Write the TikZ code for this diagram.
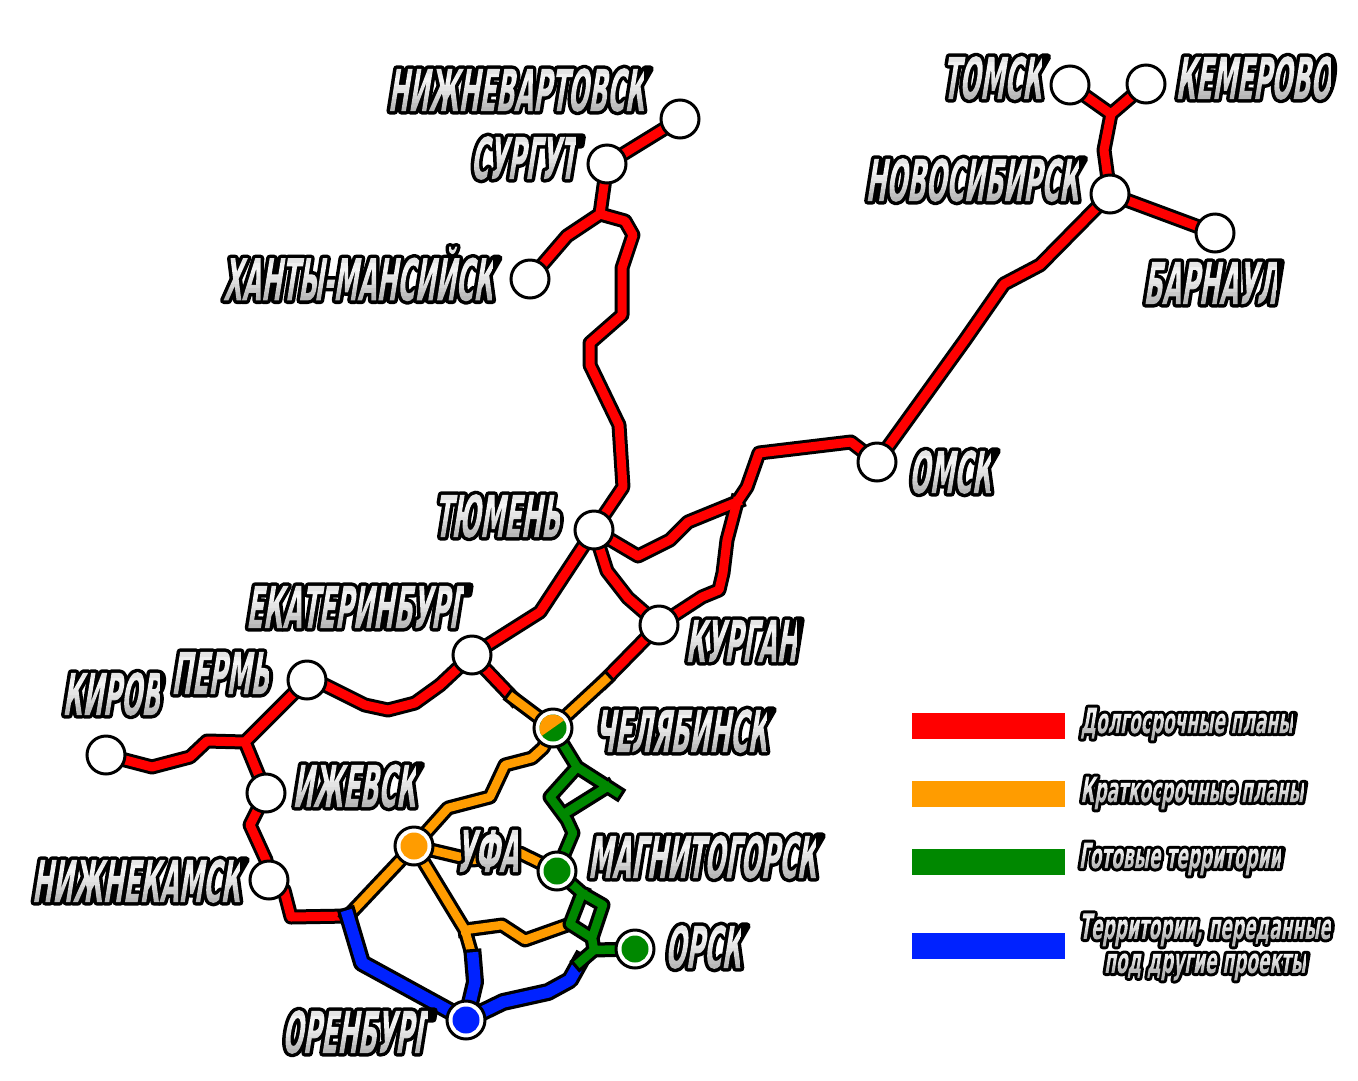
\documentclass[tikz,border=0pt]{standalone}
\usepackage{fontspec}
\usetikzlibrary{backgrounds}
\newfontfamily\cityfont[FakeStretch=.42,FakeSlant=.16]{DejaVu Sans}
\newfontfamily\legendfont[FakeStretch=.485,FakeSlant=.16]{DejaVu Sans}
\definecolor{linered}{HTML}{FF0000}
\definecolor{lineorange}{HTML}{FF9C00}
\definecolor{linegreen}{HTML}{008800}
\definecolor{lineblue}{HTML}{0022FF}
% outlined text: stroked and clipped to the glyphs, then grey bands painted in
\newcommand{\gradstrips}{.72 g -60 -.4 60 .5 re f .75 g -60 .1 60 .1 re f
  .79 g -60 .2 60 .1 re f .83 g -60 .3 60 .1 re f .87 g -60 .4 60 .1 re f
  .90 g -60 .5 60 .1 re f .93 g -60 .6 60 .1 re f .96 g -60 .7 60 .1 re f
  .94 g -60 .8 60 .1 re f .90 g -60 .9 60 .5 re f}
\newcommand{\rimtext}[3]{\special{x:gsave}\special{pdf:code 6 Tr #2 w 1 j 0 G}#3%
  \special{pdf:content #1 0 0 #1 0 0 cm \gradstrips}\special{x:grestore}}
\newcommand{\citytext}[1]{\rimtext{41}{7}{#1}}
\newcommand{\legendtext}[1]{\rimtext{26}{6}{#1}}
\newcommand{\linegroup}[4]{\draw[casing, line width=#3pt] #4;
  \draw[coreline, draw=#1, line width=#2pt] #4;}
\tikzset{
  stopnode/.style={circle, draw=black, fill=white, line width=3pt,
    minimum size=38pt, inner sep=0pt},
  filledstop/.style={stopnode, path picture={
    \fill[#1] (path picture bounding box.center) circle (13.5pt);}},
  casing/.style={draw=black, line cap=rect, line join=round},
  coreline/.style={line cap=rect, line join=round},
  citylabel/.style={inner sep=0pt, font={\cityfont\bfseries\fontsize{58}{58}\selectfont}},
  legendlabel/.style={inner sep=0pt, align=center,
    font={\legendfont\bfseries\fontsize{35}{34}\selectfont}},
  legendbar/.style={minimum width=153pt, minimum height=26pt, inner sep=0pt, outer sep=0pt}
}
\begin{document}
\begin{tikzpicture}[x=1pt, y=-1pt]
  \useasboundingbox (0,0) rectangle (1358,1080);
  % stations
  \foreach \name/\x/\y in {nizhnevartovsk/680/119, surgut/607/164, khanty/530/279,
      tomsk/1070/85, kemerovo/1146/84, novosibirsk/1110/194, barnaul/1215/233,
      omsk/877/462, tyumen/594/530, kurgan/659/625, ekb/472/655, perm/307/680,
      kirov/106/755, izhevsk/266/793, nizhnekamsk/269/880}{
    \node[stopnode] (\name) at (\x,\y) {};
  }
  \node[filledstop=lineorange] (ufa) at (414,846) {};
  \node[filledstop=linegreen] (magnitogorsk) at (557,871) {};
  \node[filledstop=linegreen] (orsk) at (635,949) {};
  \node[filledstop=lineblue] (orenburg) at (466,1020) {};
  \node[stopnode, path picture={
    \fill[linegreen] (path picture bounding box.center) circle (13.5pt);
    \fill[lineorange] ([shift={(35:13.5pt)}]path picture bounding box.center)
      arc[start angle=35, end angle=215, radius=13.5pt] -- cycle;}]
    (chelyabinsk) at (553,728) {};
  % junctions
  \coordinate (jsurgut) at (600,214);
  \coordinate (jtomsk) at (1111,114);
  \coordinate (jkurgan) at (737,502);
  \coordinate (jperm) at (245,742);
  \coordinate (jorenburg) at (348,916);
  \coordinate (jekb) at (513,698);
  \coordinate (jchel) at (605,680);
  \coordinate (jufa) at (465,930);
  \coordinate (jblue) at (473,958);
  \coordinate (jorsk) at (594,950);
  \coordinate (jtail) at (580,962);
  \coordinate (jbox) at (570,924);
  \coordinate (jmag) at (582,893);
  \coordinate (jtop) at (577,767);
  % lines
  \begin{scope}[on background layer]
    \linegroup{linered}{9}{15}{
      (nizhnevartovsk.center) -- (surgut.center) -- (jsurgut)
      (khanty.center) -- (567,236) -- (jsurgut)
      (jsurgut) -- (625,221) -- (633,235) -- (622,268) -- (622,315) -- (590,343)
        -- (590,365) -- (619,425) -- (623,487) -- (tyumen.center)
      (tomsk.center) -- (jtomsk) -- (kemerovo.center)
      (jtomsk) -- (1104,150) -- (novosibirsk.center) -- (barnaul.center)
      (novosibirsk.center) -- (1040,265) -- (1004,284) -- (965,340) -- (omsk.center)
      (omsk.center) -- (851,442) -- (759,453) -- (747,487) -- (jkurgan)
      (tyumen.center) -- (638,556) -- (670,540) -- (688,522) -- (jkurgan)
      (jkurgan) -- (727,540) -- (723,573) -- (719,590) -- (702,597) -- (kurgan.center)
      (tyumen.center) -- (607,571) -- (628,598) -- (kurgan.center)
      (tyumen.center) -- (540,612) -- (ekb.center)
      (ekb.center) -- (440,685) -- (415,703) -- (388,710) -- (365,705) -- (325,685) -- (perm.center)
      (perm.center) -- (jperm) -- (izhevsk.center)
      (kirov.center) -- (152,767) -- (190,757) -- (207,741) -- (jperm)
      (izhevsk.center) -- (250,825) -- (266,860) -- (nizhnekamsk.center)
      (nizhnekamsk.center) -- (284,890) -- (291,917) -- (jorenburg)
      (ekb.center) -- (jekb)
      (kurgan.center) -- (jchel)
    }
    \linegroup{lineorange}{8.5}{15}{
      (jekb) -- (chelyabinsk.center) -- (jchel)
      (chelyabinsk.center) -- (543,748) -- (532,758) -- (505,765) -- (490,797) -- (448,808) -- (ufa.center)
      (ufa.center) -- (473,860) -- (520,853) -- (magnitogorsk.center)
      (ufa.center) -- (jorenburg)
      (ufa.center) -- (jufa) -- (jblue)
      (jufa) -- (502,925) -- (525,940) -- (jbox)
    }
    \linegroup{lineblue}{11.5}{18}{
      (jorenburg) -- (362,963) -- (orenburg.center)
      (jblue) -- (475,982) -- (orenburg.center)
      (orenburg.center) -- (503,1002) -- (548,992) -- (570,980) -- (jtail)
    }
    \linegroup{linegreen}{8.5}{15}{
      (chelyabinsk.center) -- (jtop) -- (616,792)
      (607,787) -- (567,812)
      (jtop) -- (550,797) -- (567,820) -- (573,833) -- (magnitogorsk.center)
      (magnitogorsk.center) -- (jmag) -- (603,905) -- (593,935)
      (jmag) -- (jbox) -- (592,938) -- (jorsk) -- (orsk.center)
      (jorsk) -- (jtail)
    }
  \end{scope}
  % labels
  \foreach \name/\x/\y/\txt in {lbnizhnevartovsk/516/90/НИЖНЕВАРТОВСК, lbsurgut/523/158/СУРГУТ,
      lbkhanty/358/274/ХАНТЫ-МАНСИЙСК, lbtomsk/992/78/ТОМСК, lbkemerovo/1253/78/КЕМЕРОВО,
      lbnovosibirsk/972/180/НОВОСИБИРСК, lbbarnaul/1210/283/БАРНАУЛ, lbomsk/950/472/ОМСК,
      lbtyumen/497/516/ТЮМЕНЬ, lbkurgan/741/641/КУРГАН, lbekb/355/607/ЕКАТЕРИНБУРГ,
      lbperm/220/673/ПЕРМЬ, lbkirov/111/694/КИРОВ, lbizhevsk/354/786/ИЖЕВСК,
      lbnizhnekamsk/136/881/НИЖНЕКАМСК, lbchelyabinsk/681/731/ЧЕЛЯБИНСК, lbufa/487/851/УФА,
      lbmagnitogorsk/702/857/МАГНИТОГОРСК, lborsk/703/947/ОРСК, lborenburg/355/1032/ОРЕНБУРГ}{
    \node[citylabel] (\name) at (\x,\y) {\citytext{\txt}};
  }
  % legend
  \node[legendbar, fill=linered] (barlong) at (988.5,726) {};
  \node[legendbar, fill=lineorange] (barshort) at (988.5,793.5) {};
  \node[legendbar, fill=linegreen] (barready) at (988.5,862) {};
  \node[legendbar, fill=lineblue] (bargiven) at (988.5,946) {};
  \node[legendlabel] (lglong) at (1187,724) {\legendtext{Долгосрочные планы}};
  \node[legendlabel] (lgshort) at (1192,793) {\legendtext{Краткосрочные планы}};
  \node[legendlabel] (lgready) at (1180,859) {\legendtext{Готовые территории}};
  \node[legendlabel] (lggiven) at (1205,947)
    {\legendtext{Территории, переданные}\\\legendtext{под другие проекты}};
\end{tikzpicture}
\end{document}
